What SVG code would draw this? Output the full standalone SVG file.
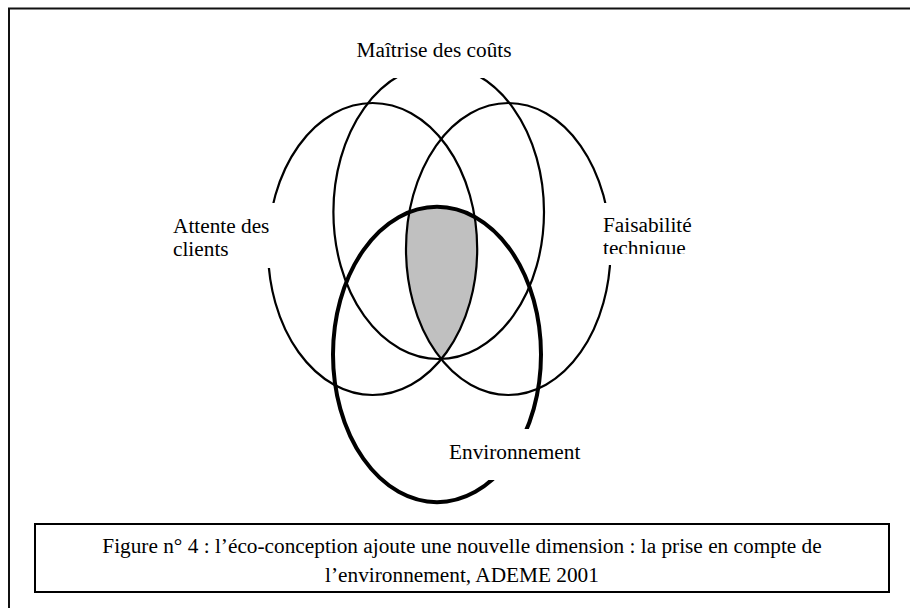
<svg xmlns="http://www.w3.org/2000/svg" width="910" height="608" viewBox="0 0 910 608">
<style>
.thin{fill:none;stroke:#000;stroke-width:2.2}
.thick{fill:none;stroke:#000;stroke-width:4}
.lbl{font-family:"Liberation Serif","Times New Roman","DejaVu Serif",serif;font-size:21.3px;fill:#000}
.mask{fill:#fff;stroke:none}
</style>
<defs>
<clipPath id="cl"><ellipse cx="372.6" cy="249" rx="104.6" ry="146"/></clipPath>
<clipPath id="cr"><ellipse cx="508.3" cy="249" rx="102.3" ry="146"/></clipPath>
<clipPath id="ctech"><rect x="590" y="190" width="160" height="64"/></clipPath>
</defs>
<rect x="0" y="0" width="910" height="608" fill="#fff"/>
<rect x="9" y="8.5" width="1000" height="700" fill="none" stroke="#111" stroke-width="2"/>
<g id="shaded" clip-path="url(#cl)">
<g clip-path="url(#cr)">
<ellipse cx="437" cy="354.5" rx="104" ry="147.7" fill="#c0c0c0"/>
</g>
</g>
<g id="connectors">
<ellipse id="e-cost" class="thin" cx="438.7" cy="212" rx="105.3" ry="147"/>
<ellipse id="e-client" class="thin" cx="372.6" cy="249" rx="104.6" ry="146"/>
<ellipse id="e-tech" class="thin" cx="508.3" cy="249" rx="102.3" ry="146"/>
<ellipse id="e-env" class="thick" cx="437" cy="354.5" rx="104" ry="147.7"/>
</g>
<g id="masks">
<rect class="mask" x="330" y="18" width="210" height="60"/>
<rect class="mask" x="165" y="203" width="114" height="65"/>
<rect class="mask" x="598" y="203" width="130" height="62"/>
<rect class="mask" x="445" y="429" width="140" height="51"/>
</g>
<g id="n-cost"><text class="lbl" x="434" y="57" text-anchor="middle">Maîtrise des coûts</text></g>
<g id="n-client"><text class="lbl" x="173" y="233">Attente des</text><text class="lbl" x="173" y="256">clients</text></g>
<g id="n-tech" clip-path="url(#ctech)"><text class="lbl" x="603" y="232">Faisabilité</text><text class="lbl" x="603" y="255">technique</text></g>
<g id="n-env"><text class="lbl" x="449" y="459">Environnement</text></g>
<g id="caption">
<rect x="35" y="524" width="854" height="68" fill="#fff" stroke="#000" stroke-width="2"/>
<text class="lbl" x="462" y="553" text-anchor="middle">Figure n° 4 : l’éco-conception ajoute une nouvelle dimension : la prise en compte de</text>
<text class="lbl" x="462" y="582" text-anchor="middle">l’environnement, ADEME 2001</text>
</g>
</svg>
